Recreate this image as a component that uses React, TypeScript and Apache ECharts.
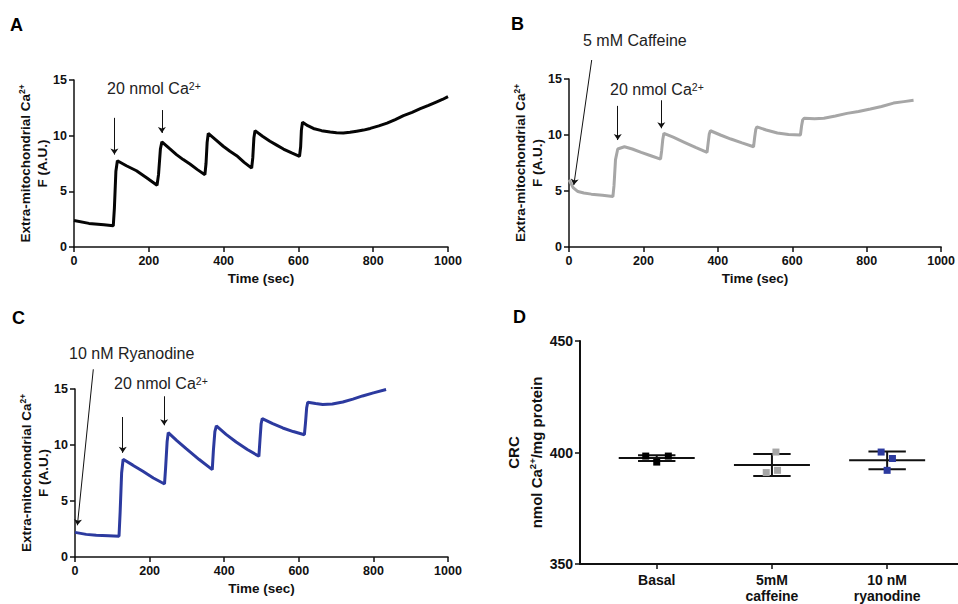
import React, { useEffect, useRef } from "react";
import * as echarts from "echarts";

// ---------- Panel A (control) ----------
const timeA = [0, 40, 80, 105, 108, 112, 116, 140, 167, 195, 222, 226, 231, 235, 255, 274, 292, 310, 330, 350, 353, 356, 359, 380, 399, 417, 435, 455, 475, 478, 481, 484, 504, 524, 542, 560, 582, 603, 606, 608, 611, 625, 640, 662, 685, 702, 720, 738, 756, 774, 792, 815, 837, 859, 881, 904, 926, 948, 970, 985, 1000];
const valuesA = [2.38, 2.12, 2.0, 1.9, 3.5, 6.8, 7.75, 7.3, 6.85, 6.2, 5.55, 6.5, 8.8, 9.45, 8.85, 8.3, 7.85, 7.45, 6.95, 6.5, 7.5, 9.4, 10.2, 9.6, 9.05, 8.6, 8.2, 7.6, 7.08, 8.0, 9.8, 10.45, 9.95, 9.5, 9.15, 8.8, 8.45, 8.15, 9.0, 10.5, 11.2, 10.9, 10.65, 10.45, 10.32, 10.26, 10.24, 10.3, 10.4, 10.5, 10.65, 10.88, 11.13, 11.45, 11.8, 12.1, 12.42, 12.72, 13.04, 13.25, 13.5];

// ---------- Panel B (5 mM caffeine) ----------
const timeB = [0, 5, 11, 24, 40, 60, 90, 118, 121, 125, 131, 149, 170, 194, 220, 246, 249, 252, 255, 280, 310, 340, 371, 374, 377, 380, 407, 435, 465, 496, 499, 502, 505, 530, 560, 590, 622, 625, 628, 632, 660, 685, 716, 747, 778, 810, 840, 872, 900, 926];
const valuesB = [6.0, 5.7, 5.3, 4.95, 4.82, 4.72, 4.62, 4.5, 5.5, 7.8, 8.75, 8.95, 8.75, 8.45, 8.15, 7.85, 8.6, 9.6, 10.15, 9.8, 9.35, 8.9, 8.45, 9.3, 10.1, 10.38, 10.0, 9.64, 9.3, 8.95, 9.8, 10.5, 10.72, 10.45, 10.18, 10.05, 10.0, 10.8, 11.35, 11.5, 11.45, 11.5, 11.7, 11.93, 12.1, 12.32, 12.55, 12.85, 12.98, 13.1];

// ---------- Panel C (10 nM ryanodine) ----------
const timeC = [0, 30, 57, 90, 118, 121, 125, 129, 155, 182, 210, 240, 243, 247, 250, 273, 298, 333, 368, 371, 375, 379, 405, 432, 462, 493, 496, 499, 502, 530, 557, 585, 615, 618, 621, 624, 645, 664, 690, 718, 745, 771, 800, 834];
const valuesC = [2.2, 2.02, 1.95, 1.9, 1.85, 4.0, 7.5, 8.72, 8.2, 7.65, 7.05, 6.52, 8.0, 10.3, 11.1, 10.4, 9.67, 8.7, 7.8, 9.5, 11.2, 11.7, 10.95, 10.27, 9.6, 8.99, 10.5, 11.9, 12.35, 11.9, 11.52, 11.2, 10.92, 12.0, 13.3, 13.82, 13.7, 13.62, 13.66, 13.84, 14.1, 14.38, 14.65, 14.95];

// ---------- Panel D (CRC) ----------
const groupLabels = ["Basal", "5mM\ncaffeine", "10 nM\nryanodine"];
const groupPositions = [0, 1, 2];
const basalValues = [398.4, 395.7, 398.4];
const caffeineValues = [400.2, 391.0, 392.0];
const ryanodineValues = [400.2, 397.3, 392.0];
const groupMeans = [397.5, 394.4, 396.5];
const groupSD = [1.3, 4.9, 4.0];

// ---------- styles ----------
const FONT = 'Arial, "Liberation Sans", Helvetica, sans-serif';
const INK = "#111111";
const COLOR_A = "#050505";
const COLOR_B = "#a6a6a6";
const COLOR_C = "#2c3a9f";
const JITTER_PX = [[-11, 0, 11.6], [4, -5.7, 5.6], [-6, 5.3, 0]];

const axisLineStyle = { show: true, onZero: false, lineStyle: { color: INK, width: 1.5 } };
const axisTickStyle = { show: true, length: 5, lineStyle: { color: INK, width: 1.5 } };
const tickLabel = {
  fontFamily: FONT, fontWeight: "bold", fontSize: 12.5, color: INK, margin: 7,
  formatter: (v: number) => String(v),
};

function timeAxis(gridIndex: number) {
  return {
    type: "value", gridIndex, min: 0, max: 1000, interval: 200,
    name: "Time (sec)", nameLocation: "middle", nameGap: 24,
    nameTextStyle: { fontFamily: FONT, fontWeight: "bold", fontSize: 13.5, color: INK },
    axisLine: axisLineStyle, axisTick: axisTickStyle, axisLabel: tickLabel,
    splitLine: { show: false },
  };
}

function fluoAxis(gridIndex: number) {
  return {
    type: "value", gridIndex, min: 0, max: 15, interval: 5,
    name: "{n|Extra-mitochondrial Ca}{s|2+}\n{n|F (A.U.)}",
    nameLocation: "middle", nameGap: 21,
    nameTextStyle: {
      fontFamily: FONT, fontWeight: "bold", fontSize: 13.5, color: INK,
      rich: {
        n: { fontFamily: FONT, fontWeight: "bold", fontSize: 13.5, color: INK, lineHeight: 17 },
        s: { fontFamily: FONT, fontWeight: "bold", fontSize: 8.5, color: INK, lineHeight: 17, padding: [0, 0, 7, 0] },
      },
    },
    axisLine: axisLineStyle, axisTick: axisTickStyle, axisLabel: tickLabel,
    splitLine: { show: false },
  };
}

function zip(t: number[], v: number[]) {
  return t.map((x, i) => [x, v[i]]);
}

const arrowMark = (data: any[]) => ({
  silent: true,
  animation: false,
  symbol: ["none", "arrow"],
  symbolSize: 6,
  label: { show: false },
  lineStyle: { color: INK, width: 1, type: "solid" },
  emphasis: { disabled: true },
  data,
});

const ANN_SIZE = 16;
const annot = (text: string, x: number, y: number) => ({
  type: "text",
  x, y,
  style: {
    text,
    fontFamily: FONT,
    fontSize: ANN_SIZE,
    fill: "#222",
    verticalAlign: "middle",
    rich: {
      t: { fontFamily: FONT, fontSize: ANN_SIZE, fill: "#222" },
      s: { fontFamily: FONT, fontSize: 10.5, fill: "#222", padding: [0, 0, 5, 0] },
    },
  },
});

const letter = (text: string, x: number, y: number) => ({
  type: "text",
  x, y,
  style: {
    text,
    fontFamily: FONT,
    fontWeight: "bold",
    fontSize: 18,
    fill: "#000",
    verticalAlign: "middle",
  },
});

function scatterSeries(values: number[], gi: number, color: string) {
  return {
    type: "scatter",
    xAxisIndex: 3, yAxisIndex: 3,
    symbol: "rect", symbolSize: 7,
    itemStyle: { color, opacity: 1 },
    z: 5,
    data: values.map((v, j) => ({ value: [groupPositions[gi], v], symbolOffset: [JITTER_PX[gi][j], 0] })),
  };
}

export default function App() {
  const ref = useRef<HTMLDivElement>(null);

  useEffect(() => {
    if (!ref.current) return;
    const chart = echarts.init(ref.current, undefined, { renderer: "svg" });
    const option: any = {
      animation: false,
      backgroundColor: "#ffffff",
      grid: [
        { left: 74, top: 80, width: 374, height: 167 },
        { left: 569, top: 79, width: 374, height: 168 },
        { left: 75, top: 389, width: 373, height: 168 },
        { left: 580, top: 341, width: 378, height: 224 },
      ],
      xAxis: [
        timeAxis(0),
        timeAxis(1),
        timeAxis(2),
        {
          type: "value", gridIndex: 3, min: -0.666, max: 2.615,
          axisLine: { ...axisLineStyle, lineStyle: { color: INK, width: 2 } },
          axisTick: { ...axisTickStyle, customValues: groupPositions },
          axisLabel: {
            fontFamily: FONT, fontWeight: "bold", color: INK, fontSize: 14, lineHeight: 16, margin: 8,
            customValues: groupPositions,
            formatter: (v: number) => groupLabels[Math.round(v)] ?? "",
          },
          splitLine: { show: false },
        },
      ],
      yAxis: [
        fluoAxis(0),
        fluoAxis(1),
        fluoAxis(2),
        {
          type: "value", gridIndex: 3, min: 350, max: 450, interval: 50,
          name: "{n|CRC}\n{n|nmol Ca}{s|2+}{n|/mg protein}",
          nameLocation: "middle", nameGap: 30,
          nameTextStyle: {
            fontFamily: FONT, fontWeight: "bold", fontSize: 15, color: INK,
            rich: {
              n: { fontFamily: FONT, fontWeight: "bold", fontSize: 15, color: INK, lineHeight: 23 },
              s: { fontFamily: FONT, fontWeight: "bold", fontSize: 9.5, color: INK, lineHeight: 23, padding: [0, 0, 8, 0] },
            },
          },
          axisLine: { ...axisLineStyle, lineStyle: { color: INK, width: 2 } },
          axisTick: axisTickStyle,
          axisLabel: { ...tickLabel, fontSize: 14 },
          splitLine: { show: false },
        },
      ],
      series: [
        {
          type: "line", xAxisIndex: 0, yAxisIndex: 0, showSymbol: false, clip: false,
          lineStyle: { color: COLOR_A, width: 3 }, itemStyle: { color: COLOR_A },
          data: zip(timeA, valuesA),
          markLine: arrowMark([
            [{ coord: [108, 11.6] }, { coord: [108, 8.3] }],
            [{ coord: [235, 12.3] }, { coord: [235, 10.25] }],
          ]),
        },
        {
          type: "line", xAxisIndex: 1, yAxisIndex: 1, showSymbol: false, clip: false,
          lineStyle: { color: COLOR_B, width: 3 }, itemStyle: { color: COLOR_B },
          data: zip(timeB, valuesB),
          markLine: arrowMark([
            [{ x: 591.7, y: 60 }, { coord: [13, 5.54] }],
            [{ coord: [131, 12.6] }, { coord: [131, 9.55] }],
            [{ coord: [248, 13.1] }, { coord: [248, 10.6] }],
          ]),
        },
        {
          type: "line", xAxisIndex: 2, yAxisIndex: 2, showSymbol: false, clip: false,
          lineStyle: { color: COLOR_C, width: 3 }, itemStyle: { color: COLOR_C },
          data: zip(timeC, valuesC),
          markLine: arrowMark([
            [{ x: 93.3, y: 369.3 }, { coord: [6.4, 2.83] }],
            [{ coord: [128, 12.5] }, { coord: [128, 9.3] }],
            [{ coord: [239, 14.35] }, { coord: [239, 11.76] }],
          ]),
        },
        {
          type: "custom", xAxisIndex: 3, yAxisIndex: 3, z: 3,
          data: groupPositions.map((p, i) => [p, groupMeans[i], groupSD[i]]),
          renderItem: (_params: any, api: any) => {
            const x = api.value(0);
            const m = api.value(1);
            const sd = api.value(2);
            const c = api.coord([x, m]);
            const top = api.coord([x, m + sd]);
            const bot = api.coord([x, m - sd]);
            const st = { stroke: INK, lineWidth: 2 };
            const cap = 18.7;
            const half = 38;
            return {
              type: "group",
              children: [
                { type: "line", shape: { x1: c[0] - half, y1: c[1], x2: c[0] + half, y2: c[1] }, style: st },
                { type: "line", shape: { x1: c[0], y1: top[1], x2: c[0], y2: bot[1] }, style: st },
                { type: "line", shape: { x1: c[0] - cap, y1: top[1], x2: c[0] + cap, y2: top[1] }, style: st },
                { type: "line", shape: { x1: c[0] - cap, y1: bot[1], x2: c[0] + cap, y2: bot[1] }, style: st },
              ],
            };
          },
        },
        scatterSeries(basalValues, 0, "#000000"),
        scatterSeries(caffeineValues, 1, COLOR_B),
        scatterSeries(ryanodineValues, 2, COLOR_C),
      ],
      graphic: [
        letter("A", 10, 25),
        letter("B", 511, 24),
        letter("C", 12, 318),
        letter("D", 513, 317),
        annot("{t|20 nmol Ca}{s|2+}", 107, 88),
        annot("{t|5 mM Caffeine}", 583, 40),
        annot("{t|20 nmol Ca}{s|2+}", 610, 89),
        annot("{t|10 nM Ryanodine}", 69, 353),
        annot("{t|20 nmol Ca}{s|2+}", 114, 383),
      ],
    };
    chart.setOption(option);
    return () => chart.dispose();
  }, []);

  return (
    <div
      ref={ref}
      style={{ position: "absolute", left: 0, top: 0, width: 958, height: 604, background: "#fff" }}
    />
  );
}
